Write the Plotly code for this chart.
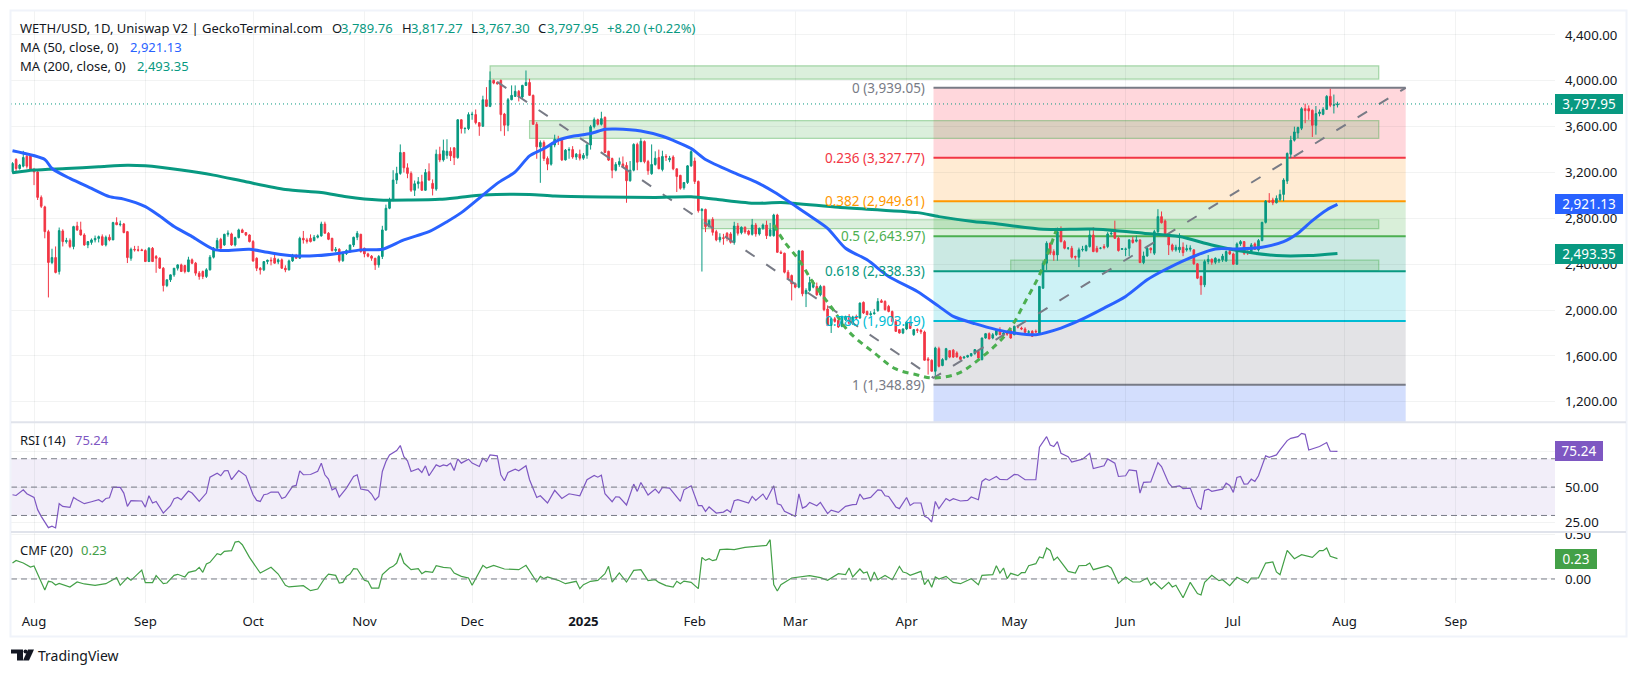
import pandas as pd
import plotly.graph_objects as go

# daily candles, starting 2024-07-26
opens = [
    3206,3313,3235,3255,3342,3351,3220,3205,2983,2900,
    2684,2415,2458,2336,2690,2597,2606,2554,2733,2699,
    2655,2568,2590,2612,2625,2640,2568,2635,2612,2763,
    2745,2751,2684,2452,2530,2525,2525,2519,2423,2539,
    2467,2452,2365,2214,2264,2307,2365,2394,2388,2336,
    2438,2409,2322,2336,2293,2351,2461,2539,2617,2568,
    2661,2664,2568,2632,2699,2676,2655,2597,2452,2365,
    2351,2423,2435,2452,2420,2438,2365,2351,2429,2473,
    2452,2626,2612,2626,2606,2635,2647,2751,2670,2626,
    2519,2530,2431,2493,2519,2568,2635,2661,2539,2490,
    2470,2452,2394,2467,2699,2888,2960,3134,3192,3374,
    3241,3192,3045,3102,3119,3045,3206,3105,3055,3360,
    3310,3350,3385,3415,3330,3660,3583,3583,3705,3705,
    3635,3603,3835,3777,4004,3985,4004,3710,3612,3835,
    3864,3908,3859,3960,3985,3873,3620,3424,3461,3322,
    3273,3440,3490,3480,3310,3395,3400,3335,3360,3325,
    3350,3440,3600,3661,3621,3680,3385,3322,3220,3270,
    3275,3262,3128,3220,3445,3295,3470,3295,3190,3270,
    3330,3226,3340,3310,3335,3232,3175,3067,3113,3258,
    3300,3122,2867,2878,2728,2791,2684,2612,2630,2670,
    2664,2589,2733,2675,2722,2690,2661,2742,2664,2713,
    2742,2649,2649,2829,2504,2496,2330,2301,2229,2200,
    2516,2142,2171,2200,2206,2133,2206,2009,1866,1924,
    1910,1858,1916,1945,1885,1940,1930,2067,1988,1959,
    1968,1995,2081,2075,2032,1988,1901,1829,1800,1835,
    1895,1785,1829,1823,1808,1574,1562,1466,1663,1516,
    1568,1646,1650,1626,1591,1582,1590,1600,1620,1640,
    1568,1756,1794,1756,1785,1817,1785,1800,1823,1785,
    1858,1843,1835,1806,1814,1814,1800,2191,2409,2583,
    2510,2481,2699,2597,2539,2539,2467,2461,2525,2519,
    2554,2655,2539,2539,2554,2554,2664,2704,2626,2530,
    2530,2539,2612,2600,2612,2414,2472,2540,2496,2684,
    2815,2777,2649,2568,2525,2525,2548,2525,2530,2525,
    2403,2293,2220,2423,2443,2417,2429,2438,2429,2510,
    2490,2400,2577,2597,2510,2510,2577,2525,2606,2765,
    2951,2960,2936,2965,3009,3125,3360,3482,3545,3586,
    3757,3757,3743,3612,3714,3708,3751,3864,3786,3789.76,
]
highs = [
    3290,3325,3275,3389,3360,3360,3240,3225,3000,2910,
    2700,2535,2555,2720,2705,2630,2625,2735,2770,2771,
    2670,2600,2625,2650,2650,2660,2650,2660,2770,2809,
    2780,2760,2690,2545,2560,2560,2535,2530,2550,2550,
    2480,2460,2375,2265,2310,2365,2400,2405,2395,2465,
    2450,2420,2340,2345,2365,2480,2550,2630,2630,2665,
    2695,2675,2640,2710,2710,2680,2660,2610,2460,2375,
    2420,2440,2460,2480,2450,2450,2390,2440,2490,2490,
    2640,2690,2630,2660,2655,2660,2771,2771,2680,2630,
    2550,2540,2500,2530,2570,2640,2690,2665,2545,2500,
    2480,2455,2480,2735,2920,2980,3220,3250,3445,3380,
    3280,3210,3130,3160,3180,3230,3280,3140,3400,3425,
    3487,3490,3420,3420,3665,3665,3590,3725,3730,3750,
    3640,3870,3945,4082,4010,3995,4010,3720,3850,3960,
    3960,3920,3965,4090,4018,3880,3640,3480,3480,3340,
    3450,3530,3520,3500,3405,3420,3430,3370,3400,3370,
    3450,3615,3680,3670,3730,3690,3390,3330,3290,3330,
    3340,3290,3300,3455,3460,3500,3480,3310,3445,3385,
    3400,3390,3360,3345,3350,3235,3180,3115,3265,3420,
    3330,3130,2890,2885,2790,2810,2700,2670,2665,2680,
    2680,2770,2760,2730,2730,2700,2795,2760,2720,2755,
    2780,2760,2840,2840,2520,2500,2350,2310,2240,2525,
    2520,2190,2290,2260,2240,2220,2215,2040,1930,1940,
    1925,1950,1950,1965,1950,1960,2065,2075,1995,1990,
    2010,2104,2095,2085,2045,1995,1920,1835,1840,1905,
    1910,1835,1840,1835,1820,1590,1570,1680,1680,1580,
    1670,1650,1660,1640,1600,1597,1610,1625,1660,1650,
    1760,1800,1805,1800,1830,1850,1810,1815,1830,1865,
    1870,1855,1850,1825,1825,1830,2210,2430,2600,2590,
    2530,2720,2730,2610,2550,2560,2475,2545,2560,2570,
    2700,2722,2560,2550,2575,2680,2690,2780,2640,2540,
    2545,2620,2640,2650,2615,2510,2560,2545,2700,2880,
    2860,2790,2660,2580,2570,2670,2590,2570,2565,2530,
    2410,2300,2440,2480,2450,2460,2450,2490,2520,2540,
    2500,2590,2610,2600,2520,2585,2590,2620,2770,2960,
    3020,2980,3000,3050,3150,3375,3520,3600,3600,3770,
    3800,3785,3750,3780,3750,3770,3875,3931,3880,3817.27,
]
lows = [
    3190,3195,3225,3245,3235,3215,3090,2960,2890,2626,
    2110,2400,2320,2310,2555,2580,2540,2530,2690,2650,
    2560,2540,2570,2590,2590,2560,2555,2600,2610,2740,
    2730,2670,2410,2430,2510,2510,2515,2420,2420,2420,
    2325,2360,2162,2200,2245,2290,2345,2335,2320,2330,
    2400,2300,2265,2270,2280,2345,2450,2530,2535,2560,
    2640,2560,2555,2625,2675,2645,2590,2420,2340,2310,
    2340,2400,2390,2405,2400,2360,2330,2345,2420,2450,
    2445,2580,2580,2590,2600,2625,2640,2670,2610,2510,
    2505,2415,2420,2480,2500,2550,2610,2500,2460,2460,
    2430,2350,2370,2445,2690,2880,2950,3100,3180,3200,
    3150,3030,2995,3060,3050,3040,3130,3000,3040,3290,
    3295,3320,3300,3265,3320,3540,3540,3570,3660,3620,
    3520,3600,3775,3770,3970,3965,3560,3520,3560,3830,
    3860,3820,3845,3955,3870,3620,3320,3110,3300,3220,
    3260,3420,3440,3300,3305,3320,3320,3310,3305,3310,
    3320,3400,3585,3610,3610,3370,3300,3150,3210,3250,
    3250,2936,3120,3210,3220,3290,3280,3180,3180,3260,
    3230,3210,3300,3290,3220,3030,3050,3050,3100,3250,
    3100,2850,2336,2680,2720,2650,2600,2590,2570,2600,
    2580,2570,2650,2660,2665,2650,2650,2640,2650,2700,
    2620,2640,2640,2500,2490,2320,2265,2084,2190,2190,
    2120,2026,2160,2190,2125,2120,1990,1860,1800,1890,
    1845,1850,1905,1870,1870,1920,1925,1965,1955,1950,
    1960,1985,2065,1995,1980,1895,1810,1795,1790,1825,
    1835,1775,1800,1790,1560,1437,1466,1400,1500,1510,
    1560,1580,1582,1585,1565,1575,1585,1595,1610,1575,
    1560,1750,1745,1745,1775,1780,1780,1775,1750,1780,
    1840,1825,1800,1785,1765,1800,1795,2185,2350,2480,
    2430,2430,2590,2530,2525,2450,2440,2375,2510,2510,
    2545,2505,2500,2530,2530,2540,2650,2620,2510,2525,
    2470,2470,2580,2590,2410,2400,2465,2495,2480,2670,
    2755,2640,2480,2510,2510,2500,2470,2510,2510,2395,
    2270,2133,2200,2400,2395,2400,2410,2420,2420,2480,
    2395,2395,2560,2480,2480,2490,2525,2510,2600,2755,
    2935,2915,2930,2950,2950,3100,3325,3470,3500,3570,
    3630,3660,3510,3530,3690,3700,3745,3770,3715,3767.30,
]
closes = [
    3279,3235,3265,3331,3255,3220,3205,2983,2905,2684,
    2415,2458,2328,2693,2597,2606,2554,2728,2699,2655,
    2568,2597,2612,2625,2640,2568,2635,2612,2763,2745,
    2750,2676,2458,2530,2525,2522,2519,2423,2539,2423,
    2452,2365,2214,2264,2307,2365,2394,2336,2336,2438,
    2409,2322,2293,2293,2351,2461,2539,2606,2539,2661,
    2670,2568,2632,2699,2676,2655,2597,2429,2365,2351,
    2423,2435,2430,2409,2438,2365,2351,2429,2473,2452,
    2626,2612,2600,2597,2635,2647,2751,2670,2617,2519,
    2530,2431,2493,2519,2568,2635,2670,2510,2490,2470,
    2452,2394,2467,2699,2888,2960,3134,3192,3374,3241,
    3192,3045,3102,3119,3045,3200,3134,3060,3360,3310,
    3390,3385,3345,3330,3660,3583,3586,3705,3708,3635,
    3603,3835,3777,4004,3980,3975,3705,3612,3835,3873,
    3908,3859,3960,3985,3873,3620,3424,3461,3322,3273,
    3440,3490,3480,3310,3395,3400,3335,3360,3325,3350,
    3440,3600,3661,3621,3670,3375,3308,3220,3270,3295,
    3250,3128,3220,3445,3290,3473,3295,3215,3270,3325,
    3232,3340,3335,3325,3232,3165,3062,3113,3258,3382,
    3122,2867,2878,2728,2780,2678,2612,2635,2626,2626,
    2591,2733,2670,2722,2681,2661,2742,2664,2713,2742,
    2649,2700,2829,2504,2496,2330,2272,2229,2200,2516,
    2142,2171,2240,2240,2133,2206,2003,1866,1924,1901,
    1852,1945,1945,1885,1940,1930,2061,1974,1959,1968,
    1975,2075,2067,2003,1988,1901,1814,1800,1835,1895,
    1840,1829,1823,1810,1562,1562,1466,1669,1510,1568,
    1663,1590,1590,1591,1570,1590,1603,1620,1655,1582,
    1756,1794,1748,1785,1823,1785,1800,1790,1756,1858,
    1852,1835,1806,1810,1771,1810,2206,2409,2583,2496,
    2481,2684,2597,2539,2540,2461,2462,2525,2530,2560,
    2655,2510,2510,2540,2545,2664,2670,2626,2519,2535,
    2532,2612,2589,2612,2414,2472,2539,2525,2684,2815,
    2762,2647,2568,2525,2548,2548,2501,2535,2540,2403,
    2278,2220,2423,2443,2417,2452,2438,2470,2510,2490,
    2400,2577,2597,2496,2505,2568,2530,2606,2765,2951,
    2945,2936,2974,3009,3134,3366,3482,3554,3592,3757,
    3740,3737,3612,3714,3728,3751,3864,3786,3790,3797.95,
]

# moving averages, read at the bends of each line (index = candle number)
ma50_idx = [0,9,11,16,22, 27,31,37,41,45, 50,56,59,66,71, 78,85,91,97,103,
            109,116,121,125,131, 135,140,144,148,152, 156,161,165,168,175,
            181,189,193,201,207, 212,217,221,227,232, 238,244,252,258,262,
            268,274,279,285,292, 297,304,310,316,320, 327,335,341,348,354,
            358,362,366,369]
ma50_vals = [3389,3313,3235,3148,3061, 2989,2968,2902,2820,2728, 2641,2530,2519,2530,2504,
             2473,2475,2496,2525,2530, 2612,2684,2771,2850,3003, 3105,3206,3345,3409,3482,
             3517,3540,3577,3580,3563, 3516,3409,3313,3197,3119, 3032,2930,2844,2713,2539,
             2438,2293,2162,2032,1945, 1881,1829,1800,1785,1843, 1907,2017,2119,2264,2336,
             2443,2533,2533,2548,2597, 2670,2780,2873,2921.13]
ma200_idx = [0,6,15,24,32,37,47,56,65,76,86,93,102,111,119,124,131,144,151,165,
             179,189,196,207,214,230,252,258,268,273,287,301,315,325,334,343,352,361,369]
ma200_vals = [3197,3221,3235,3250,3264,3258,3221,3177,3119,3052,3026,2989,2960,2960,2966,2980,3003,3009,2994,2986,
              2983,2989,2966,2931,2939,2896,2850,2815,2771,2757,2704,2707,2670,2641,2568,2510,2475,2475,2493.35]

rsi_idx = [0,1,3,4,6,7,8,10,11,12,13,14,16,17,18,20,22,24,25,26,27,28,30,31,32,33,36,37,38,39,
           40,42,44,45,46,47,49,50,52,54,55,57,58,59,60,61,63,65,67,68,69,70,71,72,74,75,76,78,79,80,
           81,83,85,86,87,88,89,90,91,93,95,96,97,99,100,101,102,103,104,105,107,108,109,110,111,113,114,115,116,118,
           119,120,121,122,123,124,125,127,128,130,131,132,133,135,136,137,138,140,141,143,144,146,147,149,151,153,155,158,160,162,
           163,164,165,167,168,169,171,173,174,175,177,179,180,181,183,186,187,189,191,192,193,194,196,198,199,200,201,202,205,206,
           207,209,210,212,213,214,215,218,219,220,221,222,224,225,227,228,230,232,234,235,236,237,239,241,242,243,244,246,247,249,
           250,251,253,254,255,256,257,258,260,261,262,264,266,267,269,270,271,272,274,275,277,279,280,282,285,286,288,289,290,291,
           292,294,295,297,298,300,301,304,305,307,308,310,311,313,314,315,317,319,320,322,323,325,326,328,330,331,332,333,334,337,
           338,339,340,341,342,343,344,345,346,347,349,350,352,353,355,356,358,359,360,361,363,364,366,367,369]
rsi_vals = [44.6,44.1,48.1,45.3,42.7,34.1,29.4,21.4,22.4,21.2,38.3,36.4,35.7,42.7,41.1,38.3,39.7,41.1,39.5,42.0,42.5,50,49.8,45.8,36.4,40.4,40.2,35.9,43.9,38.8,
            39.9,31.7,36.9,41.8,42.7,41.1,47.2,45.8,39.9,45.8,57,59.8,58,61.5,61.7,55.2,61.7,58,44.6,40.6,39.9,44.6,45.1,46.5,46.5,42,43,50.5,51.2,61.5,
            58.7,58.9,61.2,66.9,58.7,55.6,48.1,49.3,43,49.3,57.5,58.7,48.6,47.7,45.1,40.9,43.4,61,68,72.7,75.8,79.3,71.5,68.5,61,62.9,60.3,65,58,65.7,
            64.5,65.7,65,66.9,61.7,69.9,66.9,69.7,66.9,64.5,70.4,68,72.7,72,58.7,54.5,60.3,62.6,61.5,65,55.2,42.7,43.9,38.8,47.7,42,45.3,43.9,55.2,58.2,
            57,58.4,45.3,39.7,43.2,43,37.4,52.1,47,53.3,44.4,48.6,45.8,49.8,49.3,39.9,48.1,50.9,36.9,36.9,32.9,36,31.7,32.4,34.1,32.2,40.4,41.1,38.8,43.4,
            40.6,45.1,41.1,50.9,38.3,37.4,32.9,29.4,45.3,35.2,36.4,39.2,36.9,39.2,31.3,33.8,32.2,36.4,37.6,37.8,45.1,41.6,42.7,48.1,47.7,43.9,43.4,36,34.8,42.7,
            37.1,38.8,38.8,29.4,28.2,25.4,39.9,34.8,42,40.4,41.8,40.2,40.6,43,41.1,54,55.9,54.7,57.5,55.4,55.2,58.9,58.7,55.2,55.2,78.1,85.6,79.7,78.6,82.1,
            73.9,71.5,67.6,69.2,69.7,73.9,63.1,65,69.9,66.9,57.5,58,62.2,61.5,45.8,53.3,53.7,67.3,64.5,52.8,50,50.9,49,49.3,36.4,34.1,47.7,48.6,47,48.6,
            52.8,51.2,46.3,56.8,57.5,52.1,52.3,55.6,54,58,72,71,72.7,76.2,82.8,84.4,85.6,87.9,87.2,76.2,77.9,78.6,81.4,75.3,75.24]

cmf_idx = [0,1,3,5,6,9,10,11,12,13,16,18,20,23,26,29,30,32,33,36,37,39,40,42,43,45,46,48,49,51,
           52,53,54,55,57,58,59,61,62,63,64,66,69,72,74,76,77,79,81,83,85,87,88,90,91,92,93,94,95,96,
           98,99,100,102,103,105,106,107,108,109,111,113,114,115,117,118,120,122,123,125,127,128,131,132,134,137,141,143,146,147,
           148,149,152,154,157,158,159,161,163,165,166,167,169,171,173,175,177,179,180,182,184,185,186,187,189,191,192,193,194,195,
           196,197,199,201,204,207,210,211,212,213,214,217,219,222,225,227,230,232,233,234,236,237,238,239,240,241,243,245,247,248,
           249,250,253,254,255,256,257,258,260,262,264,267,269,270,273,274,275,276,277,278,280,281,282,283,285,286,287,288,289,290,
           291,294,296,297,299,300,301,303,305,306,308,310,312,314,316,317,318,320,322,323,324,326,328,330,331,332,334,336,337,339,
           341,344,345,347,349,351,352,353,355,357,359,362,364,365,366,367,369]
cmf_vals = [.18,.21,.18,.135,.147,-.124,-.026,-.034,-.068,-.049,-.09,-.034,-.056,-.071,-.053,.015,-.071,.015,-.015,.10,-.041,-.041,.038,-.053,-.045,.041,.053,.023,.075,.094,
            .132,.075,.169,.188,.286,.274,.312,.32,.417,.425,.387,.244,.068,.132,.056,-.071,-.09,-.086,-.075,-.132,-.113,.011,.056,.041,-.045,-.038,.03,.056,.117,.113,
            -.015,-.026,-.102,-.102,.049,.124,.143,.18,.293,.18,.105,.117,.06,.086,.075,.15,.132,.124,.068,.03,.011,-.071,.154,.124,.154,.113,.105,.154,-.034,.03,
            .004,.023,-.015,-.053,-.026,-.109,-.064,-.026,-.015,.06,.143,-.034,.068,-.034,.098,.105,-.019,-.008,-.038,-.075,-.09,-.026,-.053,-.023,-.038,-.109,.244,.21,.229,.207,
            .218,.331,.338,.331,.357,.368,.38,.444,-.064,-.135,-.064,.011,.019,.038,.015,-.015,.06,.049,.124,.023,.113,.068,.079,-.026,.079,-.008,.041,-.008,.143,.079,
            .068,.041,.086,-.064,-.008,-.094,.023,0,.03,-.038,-.053,.004,-.064,.041,.049,.15,.068,.124,.004,.064,.038,.071,.071,.15,.173,.248,.237,.35,.323,.211,
            .248,.086,.068,.15,.154,.18,.105,.132,.15,.124,-.049,.023,-.034,-.034,.011,-.068,-.034,-.113,-.038,-.09,-.071,-.211,-.038,-.165,-.18,-.038,.041,-.019,-.008,-.075,
            .019,-.045,.011,.011,.18,.192,.079,.049,.323,.229,.274,.244,.32,.32,.35,.256,.23]

# fibonacci retracement
fib_ratios = ["0", "0.236", "0.382", "0.5", "0.618", "0.786", "1"]
fib_prices = [3939.05, 3327.77, 2949.61, 2643.97, 2338.33, 1903.49, 1348.89]
fib_line_colors = ["#787b86", "#f23645", "#ff9800", "#4caf50", "#089981", "#00bcd4", "#787b86"]
fib_fill_colors = ["#ffd7dc", "#ffebd3", "#d9efd9", "#cbe9e3", "#cdf2f6", "#e3e3e6", "#d3defd"]
fib_start, fib_end = "2025-04-08 12:00", "2025-08-18"

# supply/demand zones
zone_starts = ["2024-12-06", "2024-12-17", "2025-02-03", "2025-04-30"]
zone_tops = [4131, 3652, 2788, 2435]
zone_bottoms = [4015, 3498, 2710, 2344]
zone_end = "2025-08-10 12:00"

# drawing tools
trend_dates = ["2024-12-08", "2025-04-08 12:00", "2025-08-18"]
trend_prices = [3990, 1408, 3939]
curve_dates = ["2025-02-23", "2025-02-26", "2025-03-02", "2025-03-06", "2025-03-11", "2025-03-16", "2025-03-23",
               "2025-03-29", "2025-04-04", "2025-04-08", "2025-04-15", "2025-04-21", "2025-04-29", "2025-05-04",
               "2025-05-08", "2025-05-11", "2025-05-13"]
curve_prices = [2743, 2595, 2438, 2237, 2027, 1809, 1626, 1486, 1434, 1408, 1443, 1565, 1800, 2071, 2307, 2551, 2725]

month_dates = ["2024-08-01", "2024-09-01", "2024-10-01", "2024-11-01", "2024-12-01", "2025-01-01", "2025-02-01",
               "2025-03-01", "2025-04-01", "2025-05-01", "2025-06-01", "2025-07-01", "2025-08-01", "2025-09-01"]
month_labels = ["Aug", "Sep", "Oct", "Nov", "Dec", "<b>2025</b>", "Feb", "Mar", "Apr", "May", "Jun", "Jul", "Aug", "Sep"]
price_ticks = [1200, 1600, 2000, 2400, 2800, 3200, 3600, 4000, 4400]

UP = "#089981"
DOWN = "#f23645"
INK = "#131722"
FONT = "Noto Sans"
PRICE_RANGE = [1022, 4609]

dates = pd.date_range("2024-07-26", periods=len(closes))


def pick(idx):
    return [dates[i] for i in idx]


def px_x(px):
    return (px - 11) / 1544


def px_y(py):
    return (603.5 - py) / 592.5


fig = go.Figure()

fig.add_trace(go.Candlestick(
    x=dates, open=opens, high=highs, low=lows, close=closes, yaxis="y",
    increasing=dict(line=dict(color=UP, width=1), fillcolor=UP),
    decreasing=dict(line=dict(color=DOWN, width=1), fillcolor=DOWN),
    whiskerwidth=0, showlegend=False,
))
fig.add_trace(go.Scatter(x=trend_dates, y=trend_prices, mode="lines", yaxis="y",
                         line=dict(color="#787b86", width=2, dash="11px,14px")))
fig.add_trace(go.Scatter(x=curve_dates, y=curve_prices, mode="lines", yaxis="y",
                         line=dict(color="#4caf50", width=3, dash="6px,5px", shape="spline")))
fig.add_trace(go.Scatter(x=pick(ma200_idx), y=ma200_vals, mode="lines", yaxis="y",
                         line=dict(color=UP, width=3, shape="spline", smoothing=0.7)))
fig.add_trace(go.Scatter(x=pick(ma50_idx), y=ma50_vals, mode="lines", yaxis="y",
                         line=dict(color="#2962ff", width=3, shape="spline", smoothing=0.7)))
fig.add_trace(go.Scatter(x=pick(rsi_idx), y=rsi_vals, mode="lines", yaxis="y2",
                         line=dict(color="#7e57c2", width=1.2)))
fig.add_trace(go.Scatter(x=pick(cmf_idx), y=cmf_vals, mode="lines", yaxis="y3",
                         line=dict(color="#43a047", width=1.2)))

shapes = []

# fib bands, then zones on top of them
band_edges = fib_prices + [PRICE_RANGE[0]]
for i in range(len(fib_fill_colors)):
    shapes.append(dict(type="rect", xref="x", yref="y", layer="below", x0=fib_start, x1=fib_end,
                       y0=band_edges[i], y1=band_edges[i + 1], fillcolor=fib_fill_colors[i], line_width=0))
for start, top, bottom in zip(zone_starts, zone_tops, zone_bottoms):
    shapes.append(dict(type="rect", xref="x", yref="y", layer="below", x0=start, x1=zone_end, y0=bottom, y1=top,
                       fillcolor="rgba(76,175,80,0.2)", line=dict(color="rgba(76,175,80,0.45)", width=1.2)))
for price, color in zip(fib_prices, fib_line_colors):
    shapes.append(dict(type="line", xref="x", yref="y", layer="below", x0=fib_start, x1=fib_end, y0=price, y1=price,
                       line=dict(color=color, width=2)))

# last price line
shapes.append(dict(type="line", xref="paper", yref="y", x0=0, x1=1, y0=closes[-1], y1=closes[-1],
                   line=dict(color=UP, width=1, dash="1px,3px")))

# rsi band and dashed levels
shapes.append(dict(type="rect", xref="paper", yref="y2", layer="below", x0=0, x1=1, y0=30, y1=70,
                   fillcolor="rgba(126,87,194,0.1)", line_width=0))
for level in [70, 50, 30]:
    shapes.append(dict(type="line", xref="paper", yref="y2", x0=0, x1=1, y0=level, y1=level,
                       line=dict(color="#787b86", width=1, dash="6px,4px")))
shapes.append(dict(type="line", xref="paper", yref="y3", x0=0, x1=1, y0=0, y1=0,
                   line=dict(color="#787b86", width=1, dash="6px,4px")))

# the 0.50 label is cut off by the pane above it
shapes.append(dict(type="rect", xref="paper", yref="paper", x0=px_x(1556), x1=px_x(1625), y0=px_y(532.5), y1=px_y(528),
                   fillcolor="white", line_width=0))
# frame and pane separators
shapes.append(dict(type="rect", xref="paper", yref="paper", x0=px_x(10.5), x1=px_x(1626.5), y0=px_y(637), y1=px_y(10.5),
                   line=dict(color="#f0f3fa", width=2)))
for sep in [422.5, 532.5]:
    shapes.append(dict(type="line", xref="paper", yref="paper", x0=px_x(11), x1=px_x(1626), y0=px_y(sep), y1=px_y(sep),
                       line=dict(color="#e0e3eb", width=2)))

# logo
logo_parts = [
    "M11,650 L23,650 L23,661 L17,661 L17,654 L11,654 Z",
    "M28,650 L34,650 L29,661 L23,661 Z",
]
for part in logo_parts:
    path = ""
    for token in part.split():
        if token == "Z":
            path += "Z"
            continue
        cmd, coords = token[0], token[1:]
        x, y = coords.split(",")
        path += f"{cmd}{px_x(float(x)):.5f},{px_y(float(y)):.5f} "
    shapes.append(dict(type="path", xref="paper", yref="paper", path=path, fillcolor=INK, line_width=0))
shapes.append(dict(type="circle", xref="paper", yref="paper", x0=px_x(23.5), x1=px_x(27.5), y0=px_y(654), y1=px_y(650),
                   fillcolor=INK, line_width=0))

notes = []


def note(text, px, py, color=INK, size=13):
    # annotations carry about 2px of padding on the left
    notes.append(dict(text=text, xref="paper", yref="paper", x=px_x(px - 2), y=px_y(py), xanchor="left", yanchor="middle",
                      showarrow=False, font=dict(family=FONT, size=size, color=color)))


note("WETH/USD, 1D, Uniswap V2 | GeckoTerminal.com", 20, 28)
for label, px, value, vpx in [("O", 332, "3,789.76", 341), ("H", 402, "3,817.27", 411),
                              ("L", 471, "3,767.30", 478), ("C", 538, "3,797.95", 547)]:
    note(label, px, 28)
    note(value, vpx, 28, UP)
note("+8.20 (+0.22%)", 607, 28, UP)
note("MA (50, close, 0)", 20, 47.5)
note("2,921.13", 130, 47.5, "#2962ff")
note("MA (200, close, 0)", 20, 66)
note("2,493.35", 137, 66, UP)
note("RSI (14)", 20, 440.7)
note("75.24", 75, 440.7, "#7e57c2")
note("CMF (20)", 20, 550.7)
note("0.23", 81, 550.7, "#43a047")
note("TradingView", 38, 656.5, INK, 14)

# fib labels sit left of the band, centred on their line
for ratio, price, color in zip(fib_ratios, fib_prices, fib_line_colors):
    notes.append(dict(text=f"{ratio} ({price:,.2f})", xref="paper", yref="y", x=px_x(927), y=price, xanchor="right",
                      yanchor="middle", showarrow=False, font=dict(family=FONT, size=13.5, color=color)))

# value badges on the price scale
for text, yref, value, color, width in [("3,797.95", "y", closes[-1], UP, 66),
                                        ("2,921.13", "y", ma50_vals[-1], "#2962ff", 66),
                                        ("2,493.35", "y", ma200_vals[-1], UP, 66),
                                        ("75.24", "y2", rsi_vals[-1], "#7e57c2", 46),
                                        ("0.23", "y3", cmf_vals[-1], "#43a047", 40)]:
    notes.append(dict(text=text, xref="paper", yref=yref, x=1, y=value, xanchor="left", yanchor="middle",
                      showarrow=False, width=width, height=18, align="center", bgcolor=color, borderpad=0,
                      borderwidth=1, bordercolor=color, font=dict(family=FONT, size=13.5, color="white")))

# translucent so the grid stays faint over the fib bands instead of cutting white stripes
grid = "rgba(42,46,57,0.06)"
axis_font = dict(family=FONT, size=13.2, color=INK)
fig.update_layout(
    width=1638, height=676, margin=dict(l=11, r=83, t=11, b=72.5),
    paper_bgcolor="white", plot_bgcolor="white", showlegend=False, boxgap=0.35, font=dict(family=FONT),
    shapes=shapes, annotations=notes,
    xaxis=dict(anchor="y3", range=["2024-07-25 14:00", "2025-09-28 14:00"], tickmode="array", tickvals=month_dates,
               ticktext=month_labels, showgrid=True, gridcolor=grid, zeroline=False, showline=False, ticks="",
               rangeslider=dict(visible=False), tickfont=axis_font, ticklabelstandoff=9, automargin=False),
    yaxis=dict(domain=[px_y(422.5), 1], range=PRICE_RANGE, side="right", anchor="x", tickmode="array",
               tickvals=price_ticks, ticktext=[f"{t:,.2f}" for t in price_ticks], gridcolor=grid, zeroline=False,
               tickfont=axis_font, ticklabelstandoff=9, automargin=False),
    yaxis2=dict(domain=[px_y(532.5), px_y(422.5)], range=[18.3, 95.8], side="right", anchor="x", tickmode="array",
                tickvals=[25, 50, 75], ticktext=["25.00", "50.00", "75.00"], gridcolor=grid, zeroline=False,
                tickfont=axis_font, ticklabelstandoff=9, automargin=False),
    yaxis3=dict(domain=[0, px_y(532.5)], range=[-0.271, 0.53], side="right", anchor="x", tickmode="array",
                tickvals=[0, 0.5], ticktext=["0.00", "0.50"], gridcolor=grid, zeroline=False, tickfont=axis_font,
                ticklabelstandoff=9, automargin=False),
)

# the browser's default page margin would push the whole chart off its pixel grid
fig.write_html("out.html", config=dict(displayModeBar=False), post_script="document.body.style.margin='0';")
